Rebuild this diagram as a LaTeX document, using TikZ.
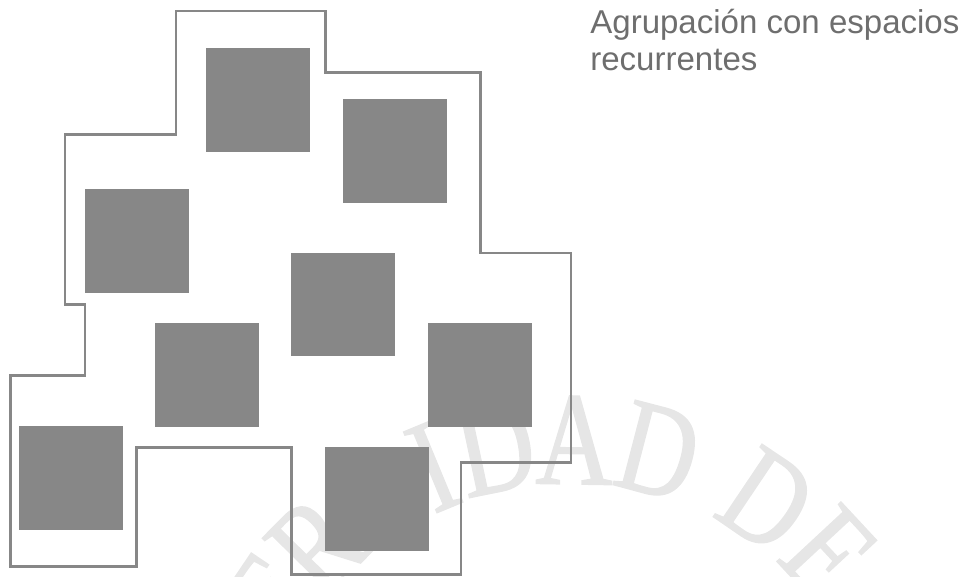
\documentclass[tikz,border=0pt]{standalone}
\usepackage{fontspec}
\usepackage{tikz}
\usetikzlibrary{calc,positioning}
\newfontfamily\labelfont{Liberation Sans}
\newfontfamily\sealfont[FakeStretch=0.8,FakeBold=1]{Liberation Serif}
\definecolor{boxgray}{HTML}{878787}
\definecolor{edgegray}{HTML}{878787}
\definecolor{textgray}{HTML}{6E6E6E}
\definecolor{sealgray}{HTML}{E6E6E6}

\begin{document}
\begin{tikzpicture}[x=0.02cm,y=0.02cm,
   blk/.style={rectangle,fill=boxgray,inner sep=0pt,minimum size=2.08cm},
   zone/.style={draw=edgegray,line width=1.5pt,line join=miter},
   lbl/.style={font=\labelfont\fontsize{18.8}{21.4}\selectfont,text=textgray,inner sep=0pt},
   wm/.style={font=\sealfont\fontsize{76}{76}\selectfont,text=sealgray,inner sep=0pt}]
  \useasboundingbox (0,0) rectangle (960,577);
  % watermark seal
  \coordinate (seal) at (569,-218);
  \foreach \ch/\ang [count=\i] in {E/146,R/135.4,S/124,I/112.5,D/102,A/89.1,D/75.4,D/56.1,E/42.9}{
    \node[wm,rotate=\ang-90] (wm\i) at ($(seal)+(\ang:355)$) {\ch};}
  % grouping outline
  \draw[zone] (176,566) -- (325.7,566) -- (325.7,504.6) -- (480.8,504.6) -- (480.8,324)
    -- (570.9,324) -- (570.9,114.5) -- (461,114.5) -- (461,2.4) -- (291.2,2.4)
    -- (291.2,129.2) -- (136.8,129.2) -- (136.8,10.8) -- (10.7,10.8) -- (10.7,201.3)
    -- (85,201.3) -- (85,272.6) -- (65,272.6) -- (65,442.8) -- (176,442.8) -- cycle;
  % spaces
  \node[blk] (sq1) at (258,477.3) {};
  \node[blk] (sq2) at (395.3,425.5) {};
  \node[blk] (sq3) at (137,335.5) {};
  \node[blk] (sq4) at (343,272.5) {};
  \node[blk] (sq5) at (207,201.8) {};
  \node[blk] (sq6) at (480.3,201.8) {};
  \node[blk] (sq7) at (71,98.8) {};
  \node[blk] (sq8) at (377.3,78) {};
  % caption
  \node[lbl,anchor=base west] (cap1) at (590,543.7) {Agrupación con espacios};
  \node[lbl,anchor=base west] (cap2) at ([yshift=-37.7*0.02cm]cap1.base west) {recurrentes};
\end{tikzpicture}
\end{document}
